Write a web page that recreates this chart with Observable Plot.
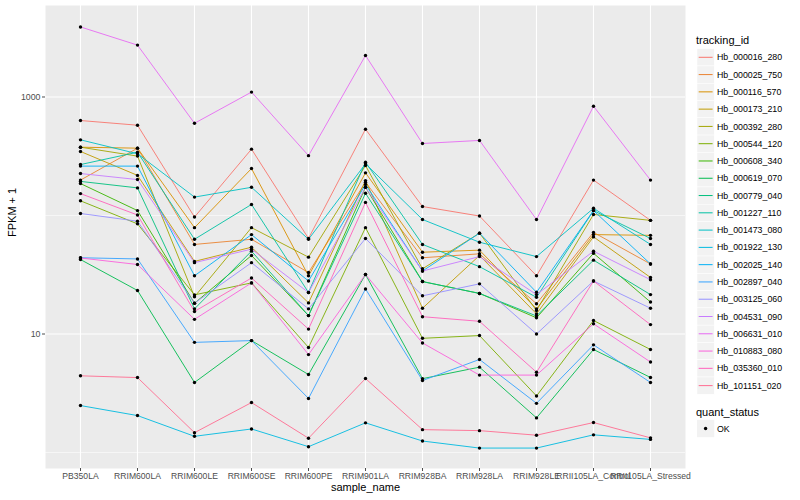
<!DOCTYPE html>
<html><head><meta charset="utf-8">
<script src="https://cdn.jsdelivr.net/npm/d3@7"></script>
<script src="https://cdn.jsdelivr.net/npm/@observablehq/plot@0.6"></script>
<style>
body{margin:0;background:#fff;font-family:"Liberation Sans",Arial,sans-serif}
#wrap{position:relative;width:800px;height:500px;overflow:hidden}
#legend{position:absolute;left:0;top:0;pointer-events:none}
</style></head><body>
<div id="wrap"><div id="chart"></div><svg id="legend" width="800" height="500"></svg></div>
<script>
const samples = ["PB350LA","RRIM600LA","RRIM600LE","RRIM600SE","RRIM600PE","RRIM901LA","RRIM928BA","RRIM928LA","RRIM928LE","RRII105LA_Control","RRII105LA_Stressed"];
const ids = ["Hb_000016_280","Hb_000025_750","Hb_000116_570","Hb_000173_210","Hb_000392_280","Hb_000544_120","Hb_000608_340","Hb_000619_070","Hb_000779_040","Hb_001227_110","Hb_001473_080","Hb_001922_130","Hb_002025_140","Hb_002897_040","Hb_003125_060","Hb_004531_090","Hb_006631_010","Hb_010883_080","Hb_035360_010","Hb_101151_020"];
const colors = ["#F8766D","#EA8331","#D89000","#C09B00","#A3A500","#7CAE00","#39B600","#00BB4E","#00BF7D","#00C1A3","#00BFC4","#00BAE0","#00B0F6","#35A2FF","#9590FF","#C77CFF","#E76BF3","#FA62DB","#FF62BC","#FF6C91"];
const yTicks = [10, 1000];

// FPKM + 1 per sample, one array per tracking_id
const hb000016_280 = [633, 578, 97, 363, 64, 535, 119, 99, 31, 199, 91];
const hb000025_750 = [199, 370, 57, 63, 33, 191, 44, 47.5, 18, 72, 39];
const hb000116_570 = [377, 370, 79, 249, 31, 229, 49, 51, 16.3, 69, 68];
const hb000173_210 = [347, 218, 41, 54, 18.3, 197, 16.5, 46, 14.8, 66, 30];
const hb000392_280 = [377, 317, 20.6, 79, 44.5, 264, 35.5, 71, 15.8, 102, 91];
const hb000544_120 = [133, 85, 21.4, 27, 7.7, 79, 9.2, 9.7, 3.0, 13, 7.4];
const hb000608_340 = [186, 110, 18.2, 46, 14.3, 173, 27.7, 22, 13.7, 48, 18.6];
const hb000619_070 = [42.5, 23.3, 3.9, 8.8, 4.55, 31.8, 4.2, 5.25, 1.96, 7.4, 4.3];
const hb000779_040 = [194, 171, 16.3, 50, 14.3, 154, 27.7, 22, 14.2, 42, 21.5];
const hb001227_110 = [269, 342, 63, 124, 22.4, 282, 57, 37, 20.4, 110, 64];
const hb001473_080 = [435, 332, 143, 173, 63, 273, 92.5, 59.5, 45, 115, 57];
const hb001922_130 = [2.49, 2.05, 1.37, 1.58, 1.12, 1.78, 1.25, 1.09, 1.09, 1.41, 1.29];
const hb002025_140 = [261, 261, 31, 69, 28, 183, 34, 71, 22.5, 110, 39];
const hb002897_040 = [44, 43, 8.5, 8.8, 2.86, 24, 4.05, 6.1, 2.6, 8.1, 3.9];
const hb003125_060 = [104, 89.5, 18.2, 40, 16.3, 64, 21, 26.5, 10, 28, 16.5];
const hb004531_090 = [226, 201, 40, 52, 22.4, 173, 34, 45, 21.5, 50, 28.7];
const hb006631_010 = [3900, 2740, 600, 1100, 320, 2240, 405, 430, 92.5, 836, 199];
const hb010883_080 = [43.8, 38.6, 13.3, 27, 6.7, 31.8, 8.4, 4.5, 4.5, 12.2, 5.8];
const hb035360_010 = [153, 101, 15.5, 29.7, 11, 129, 14, 12.8, 4.76, 28, 12];
const hb101151_020 = [4.44, 4.29, 1.47, 2.64, 1.32, 4.21, 1.56, 1.53, 1.40, 1.79, 1.33];

const series = [hb000016_280,hb000025_750,hb000116_570,hb000173_210,hb000392_280,hb000544_120,hb000608_340,hb000619_070,hb000779_040,hb001227_110,hb001473_080,hb001922_130,hb002025_140,hb002897_040,hb003125_060,hb004531_090,hb006631_010,hb010883_080,hb035360_010,hb101151_020];
const rows = [];
series.forEach((vals, i) => vals.forEach((v, j) => rows.push({id: ids[i], sample: samples[j], value: v})));

const font = "Liberation Sans, Arial, Helvetica, sans-serif";
const chart = Plot.plot({
  width: 800, height: 500,
  marginLeft: 45, marginRight: 115, marginTop: 5, marginBottom: 32,
  style: {fontFamily: font, fontSize: "8.8px", background: "white", color: "#4D4D4D"},
  x: {type: "point", domain: samples, padding: 0.6},
  y: {type: "log", domain: [0.733, 5916]},
  color: {domain: ids, range: colors},
  marks: [
    Plot.frame({fill: "#EBEBEB", stroke: "none"}),
    Plot.ruleY([1, 100], {stroke: "white", strokeWidth: 0.55}),
    Plot.ruleY(yTicks, {stroke: "white", strokeWidth: 1.1}),
    Plot.ruleX(samples, {stroke: "white", strokeWidth: 1.1}),
    Plot.line(rows, {x: "sample", y: "value", z: "id", stroke: "id", strokeWidth: 0.9}),
    Plot.dot(rows, {x: "sample", y: "value", fill: "black", r: 1.7}),
    Plot.axisY({ticks: yTicks, tickFormat: d => String(d), tickSize: 3, tickPadding: 2, label: null, color: "#4D4D4D", fontSize: 8.8}),
    Plot.axisX({tickSize: 3, tickPadding: 1.5, label: null, color: "#4D4D4D", fontSize: 8.6}),
    Plot.text(["FPKM + 1"], {frameAnchor: "left", dx: -33, rotate: -90, fontSize: 11, fill: "black"}),
    Plot.text(["sample_name"], {frameAnchor: "bottom", dy: 22, fontSize: 11, fill: "black"})
  ]
});
document.getElementById("chart").appendChild(chart);

// legend (ggplot-style)
const lg = d3.select("#legend").style("font-family", font);
lg.append("text").attr("x", 696).attr("y", 44).attr("font-size", 11).attr("fill", "black").text("tracking_id");
const step = 17.28, y0 = 57.3;
ids.forEach((id, i) => {
  const cy = y0 + i * step;
  lg.append("rect").attr("x", 697).attr("y", cy - step / 2).attr("width", 17.28).attr("height", step).attr("fill", "#F2F2F2").attr("stroke", "white").attr("stroke-width", 0.5);
  lg.append("line").attr("x1", 698.7).attr("x2", 712.6).attr("y1", cy).attr("y2", cy).attr("stroke", colors[i]).attr("stroke-width", 1);
  lg.append("text").attr("x", 717).attr("y", cy).attr("dy", "0.35em").attr("font-size", 8.8).attr("fill", "black").text(id);
});
lg.append("text").attr("x", 696).attr("y", 416).attr("font-size", 11).attr("fill", "black").text("quant_status");
lg.append("rect").attr("x", 697).attr("y", 428.5 - step / 2).attr("width", 17.28).attr("height", step).attr("fill", "#F2F2F2");
lg.append("circle").attr("cx", 705.6).attr("cy", 428.5).attr("r", 1.7).attr("fill", "black");
lg.append("text").attr("x", 717).attr("y", 428.5).attr("dy", "0.35em").attr("font-size", 8.8).attr("fill", "black").text("OK");
</script>
</body></html>
